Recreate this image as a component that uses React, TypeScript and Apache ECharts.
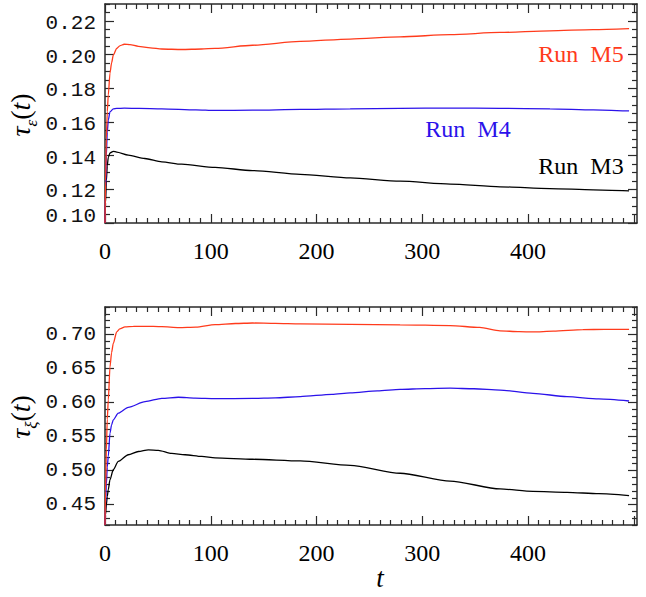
import React, { useEffect, useRef } from 'react';
import * as echarts from 'echarts';

// ---------- axes ----------
const tMin = 0;
const tMax = 503;
const xMajorTicks = [0, 100, 200, 300, 400, 500];
const xLabelTicks = [0, 100, 200, 300, 400];
const xMinorStep = 10;

const epsRange = [0.10, 0.23];
const epsMajorTicks = [0.10, 0.12, 0.14, 0.16, 0.18, 0.20, 0.22];
const epsMinorStep = 0.005;

const xiRange = [0.42, 0.74];
const xiMajorTicks = [0.45, 0.50, 0.55, 0.60, 0.65, 0.70];
const xiMinorStep = 0.01;

// ---------- legend ----------
const runNames = ['Run  M5', 'Run  M4', 'Run  M3'];
const runColors = ['#ff3b1c', '#2b12ea', '#000000'];

// ---------- data: tau_epsilon(t) ----------
const epsM5: [number, number][] = [
  [0, 0.10], [0.54, 0.125], [1.29, 0.15], [2.15, 0.166], [3.11, 0.176], [4.72, 0.189], [6.22, 0.195],
  [7.83, 0.1996], [11.05, 0.2036], [13.95, 0.2052], [18.24, 0.2061], [23.6, 0.2059], [31.55, 0.2049],
  [42.9, 0.2040], [53.7, 0.2033], [72.5, 0.2030], [91.2, 0.2033], [104.1, 0.2037], [139.5, 0.2055],
  [184.6, 0.2078], [231.8, 0.2092], [279, 0.2105], [326.3, 0.2118], [373.5, 0.2131], [420.7, 0.2141],
  [461.5, 0.2148], [495.5, 0.2154],
];
const epsM4: [number, number][] = [
  [0, 0.10], [0.54, 0.12], [1.29, 0.14], [2.15, 0.154], [3.11, 0.161], [4.72, 0.166], [7.83, 0.1677],
  [11.05, 0.1680], [18.24, 0.1682], [32.2, 0.1680], [53.7, 0.1678], [85.9, 0.1672], [104.1, 0.1668],
  [139.5, 0.1670], [184.6, 0.1674], [231.8, 0.1678], [279, 0.1681], [326.3, 0.1682], [373.5, 0.1681],
  [420.7, 0.1678], [461.5, 0.1672], [495.5, 0.1665],
];
const epsM3: [number, number][] = [
  [0, 0.10], [0.54, 0.112], [1.29, 0.125], [2.15, 0.134], [3.11, 0.139], [4.72, 0.1416], [7.83, 0.1425],
  [11.05, 0.1421], [22, 0.1403], [37.6, 0.1383], [53.7, 0.1363], [72.5, 0.1349], [104.1, 0.1330],
  [139.5, 0.1311], [184.6, 0.1289], [231.8, 0.1268], [279, 0.1248], [326.3, 0.1231], [373.5, 0.1215],
  [420.7, 0.1204], [461.5, 0.1197], [495.5, 0.1191],
];

// ---------- data: tau_xi(t) ----------
const xiM5: [number, number][] = [
  [0, 0.42], [0.54, 0.47], [1.29, 0.53], [2.15, 0.575], [3.11, 0.6035], [4.72, 0.652], [6.22, 0.673],
  [7.83, 0.6864], [11.05, 0.7034], [13.95, 0.708], [18.9, 0.7107], [26.8, 0.7115], [37.6, 0.7117],
  [53.7, 0.7112], [69.8, 0.7098], [85.9, 0.7105], [104.1, 0.7142], [123.4, 0.7158], [139.5, 0.7165],
  [161, 0.7160], [184.6, 0.7152], [231.8, 0.7145], [279, 0.7138], [326.3, 0.7128], [354.2, 0.7100],
  [373.5, 0.7050], [391.7, 0.7038], [404.6, 0.7034], [423.9, 0.7045], [451.8, 0.7069], [472.2, 0.7071],
  [495.5, 0.7073],
];
const xiM4: [number, number][] = [
  [0, 0.42], [0.54, 0.45], [1.29, 0.48], [2.15, 0.505], [3.11, 0.5206], [4.72, 0.5548], [6.22, 0.567],
  [7.83, 0.5743], [12.56, 0.5841], [22, 0.5928], [37.9, 0.601], [53.7, 0.606], [69.3, 0.6075],
  [85.2, 0.6062], [104.1, 0.6055], [139.5, 0.6058], [161, 0.6066], [184.6, 0.6085], [214.6, 0.6118],
  [231.8, 0.6140], [257.6, 0.6170], [279, 0.6190], [302.6, 0.6202], [326.3, 0.6208], [348.8, 0.6200],
  [373.5, 0.6181], [404.6, 0.6133], [436.8, 0.6083], [466.8, 0.6050], [495.5, 0.6020],
];
const xiM3: [number, number][] = [
  [0, 0.42], [0.54, 0.435], [1.29, 0.45], [2.15, 0.462], [3.11, 0.4719], [4.72, 0.4865], [7.83, 0.5012],
  [12.56, 0.5133], [22, 0.5231], [31.55, 0.5279], [41, 0.5304], [50.4, 0.5296], [63.1, 0.5250],
  [75.7, 0.5231], [91.5, 0.5206], [104.1, 0.5185], [139.5, 0.5165], [184.6, 0.5140], [231.8, 0.5075],
  [279, 0.4960], [326.3, 0.4845], [373.5, 0.4729], [404.6, 0.4694], [436.8, 0.4680], [466.8, 0.4660],
  [495.5, 0.4631],
];

function minorValues(min: number, max: number, step: number, majors: number[]) {
  const out: number[] = [];
  const k0 = Math.ceil(min / step - 1e-6);
  const k1 = Math.floor(max / step + 1e-6);
  for (let k = k0; k <= k1; k++) {
    const v = +(k * step).toFixed(6);
    if (!majors.some((m) => Math.abs(m - v) < step / 10)) out.push(v);
  }
  return out;
}

const AXIS_COLOR = '#2a2a2a';
const lineStyle = { color: AXIS_COLOR, width: 1.5 };

function makeAxes(
  dir: 'x' | 'y',
  gridIndex: number,
  min: number,
  max: number,
  majors: number[],
  minors: number[],
  labels: number[],
  labelCfg: any
) {
  const sides = dir === 'x' ? ['bottom', 'top'] : ['left', 'right'];
  const axes: any[] = [];
  sides.forEach((pos, si) => {
    [true, false].forEach((isMajor) => {
      axes.push({
        type: 'value',
        gridIndex,
        position: pos,
        min,
        max,
        splitLine: { show: false },
        axisLine: { show: isMajor, onZero: false, lineStyle },
        axisTick: {
          show: true,
          inside: true,
          length: isMajor ? 9 : 5,
          customValues: isMajor ? majors : minors,
          lineStyle: { color: AXIS_COLOR, width: 1.2 },
        },
        axisLabel:
          si === 0 && isMajor
            ? { show: true, customValues: labels, ...labelCfg }
            : { show: false },
      });
    });
  });
  return axes;
}

const xLabelCfg = {
  fontFamily: 'Liberation Serif',
  fontSize: 24,
  color: '#000',
  margin: 16,
  formatter: (v: number) => String(Math.round(v)),
};

const yLabelBase = {
  fontFamily: 'Liberation Mono',
  fontSize: 21,
  color: '#111',
  margin: 9,
  padding: [5, 0, 0, 0],
};

const epsLabelCfg = {
  ...yLabelBase,
  formatter: (v: number) =>
    Math.abs(v - epsRange[0]) < 1e-6 ? '{lo|' + v.toFixed(2) + '}' : v.toFixed(2),
  rich: {
    lo: { fontFamily: 'Liberation Mono', fontSize: 21, color: '#111', padding: [0, 0, 18, 0] },
  },
};
const xiLabelCfg = {
  ...yLabelBase,
  formatter: (v: number) => v.toFixed(2),
};

export default function App() {
  const ref = useRef<HTMLDivElement>(null);

  useEffect(() => {
    if (!ref.current) return;
    const chart = echarts.init(ref.current, undefined, { renderer: 'svg' });

    const xMinors = minorValues(tMin, tMax, xMinorStep, xMajorTicks);
    const epsMinors = minorValues(epsRange[0], epsRange[1], epsMinorStep, epsMajorTicks);
    const xiMinors = minorValues(xiRange[0], xiRange[1], xiMinorStep, xiMajorTicks);

    const xAxis = [
      ...makeAxes('x', 0, tMin, tMax, xMajorTicks, xMinors, xLabelTicks, xLabelCfg),
      ...makeAxes('x', 1, tMin, tMax, xMajorTicks, xMinors, xLabelTicks, xLabelCfg),
    ];
    const yAxis = [
      ...makeAxes('y', 0, epsRange[0], epsRange[1], epsMajorTicks, epsMinors, epsMajorTicks, epsLabelCfg),
      ...makeAxes('y', 1, xiRange[0], xiRange[1], xiMajorTicks, xiMinors, xiMajorTicks, xiLabelCfg),
    ];

    const mk = (data: [number, number][], color: string, axisIdx: number) => ({
      type: 'line',
      xAxisIndex: axisIdx,
      yAxisIndex: axisIdx,
      data,
      showSymbol: false,
      symbol: 'none',
      smooth: 0.25,
      smoothMonotone: 'x',
      clip: true,
      lineStyle: { color, width: 1.3 },
      silent: true,
    });

    const titleRich = {
      a: { fontFamily: 'Liberation Serif', fontSize: 28, fontStyle: 'italic', fill: '#000', lineHeight: 40 },
      p: { fontFamily: 'Liberation Serif', fontSize: 28, fill: '#000', lineHeight: 40 },
      s: {
        fontFamily: 'Liberation Serif',
        fontSize: 17,
        fontStyle: 'italic',
        fill: '#000',
        verticalAlign: 'bottom',
        lineHeight: 40,
      },
    };

    chart.setOption({
      animation: false,
      backgroundColor: '#fff',
      grid: [
        { left: 105, top: 4, width: 532, height: 219, containLabel: false },
        { left: 105, top: 307, width: 532, height: 218, containLabel: false },
      ],
      xAxis,
      yAxis,
      series: [
        mk(epsM3, runColors[2], 0),
        mk(epsM4, runColors[1], 0),
        mk(epsM5, runColors[0], 0),
        mk(xiM3, runColors[2], 4),
        mk(xiM4, runColors[1], 4),
        mk(xiM5, runColors[0], 4),
      ],
      graphic: [
        {
          type: 'text',
          x: 581,
          y: 54,
          style: {
            text: runNames[0],
            fill: runColors[0],
            fontFamily: 'Liberation Serif',
            fontSize: 24,
            align: 'center',
            verticalAlign: 'middle',
          },
        },
        {
          type: 'text',
          x: 468,
          y: 129,
          style: {
            text: runNames[1],
            fill: runColors[1],
            fontFamily: 'Liberation Serif',
            fontSize: 24,
            align: 'center',
            verticalAlign: 'middle',
          },
        },
        {
          type: 'text',
          x: 581,
          y: 166,
          style: {
            text: runNames[2],
            fill: runColors[2],
            fontFamily: 'Liberation Serif',
            fontSize: 24,
            align: 'center',
            verticalAlign: 'middle',
          },
        },
        {
          type: 'text',
          x: 20,
          y: 115,
          rotation: Math.PI / 2,
          style: {
            text: '{a|τ}{s|ε}{p|(}{a|t}{p|)}',
            rich: titleRich,
            align: 'center',
            verticalAlign: 'middle',
          },
        },
        {
          type: 'text',
          x: 20,
          y: 417,
          rotation: Math.PI / 2,
          style: {
            text: '{a|τ}{s|ξ}{p|(}{a|t}{p|)}',
            rich: titleRich,
            align: 'center',
            verticalAlign: 'middle',
          },
        },
        {
          type: 'text',
          x: 380,
          y: 578,
          style: {
            text: 't',
            fill: '#000',
            fontFamily: 'Liberation Serif',
            fontStyle: 'italic',
            fontSize: 27,
            align: 'center',
            verticalAlign: 'middle',
          },
        },
      ],
    });

    return () => chart.dispose();
  }, []);

  return (
    <div
      ref={ref}
      style={{ position: 'absolute', left: 0, top: 0, width: 646, height: 597, background: '#fff' }}
    />
  );
}
